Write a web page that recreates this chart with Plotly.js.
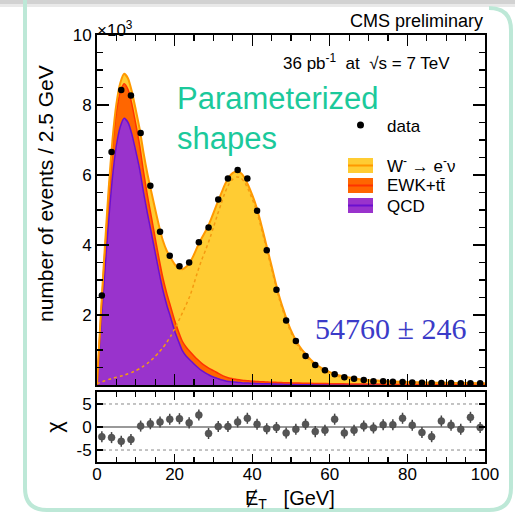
<!DOCTYPE html>
<html>
<head>
<meta charset="utf-8">
<script src="https://cdn.plot.ly/plotly-3.0.1.min.js"></script>
<style>
  html, body { margin: 0; padding: 0; background: #ffffff; }
  #chart { width: 515px; height: 518px; }
</style>
</head>
<body>
<div id="chart"></div>
<script>
// Missing transverse energy sampling points of the fitted shapes (GeV)
const modelMet = [0, 1, 2, 3, 4, 5, 6, 7, 8, 9, 10, 11, 12, 13, 14, 15, 16, 17, 18, 19,
  20, 21, 22, 23, 24, 25, 26, 27, 28, 29, 30, 31, 32, 33, 34, 35, 36, 37, 38, 39,
  40, 41, 42, 43, 44, 45, 46, 47, 48, 49, 50, 52, 54, 56, 58, 60, 62, 65, 68, 72,
  76, 80, 85, 90, 95, 100];

// QCD component (10^3 events / 2.5 GeV)
const qcdShape = [0, 1.67, 3.23, 4.69, 5.95, 6.85, 7.38, 7.62, 7.50, 7.16,
  6.68, 6.16, 5.50, 4.90, 4.35, 3.78, 3.22, 2.70, 2.28, 1.92,
  1.55, 1.25, 0.98, 0.82, 0.71, 0.60, 0.50, 0.41, 0.34, 0.28,
  0.23, 0.19, 0.15, 0.12, 0.10, 0.09, 0.08, 0.07, 0.06, 0.055,
  0.05, 0.045, 0.04, 0.038, 0.035, 0.032, 0.03, 0.028, 0.026, 0.024,
  0.022, 0.02, 0.018, 0.016, 0.014, 0.012, 0.011, 0.01, 0.009, 0.008,
  0.007, 0.006, 0.005, 0.004, 0.003, 0.003];

// EWK + ttbar component
const ewkShape = [0, 0.30, 0.55, 0.75, 0.88, 0.96, 1.00, 0.99, 0.94, 0.86,
  0.77, 0.68, 0.59, 0.51, 0.46, 0.42, 0.38, 0.35, 0.33, 0.31,
  0.30, 0.28, 0.27, 0.26, 0.24, 0.23, 0.22, 0.21, 0.20, 0.19,
  0.18, 0.16, 0.14, 0.12, 0.10, 0.09, 0.08, 0.075, 0.07, 0.065,
  0.06, 0.058, 0.055, 0.052, 0.05, 0.048, 0.046, 0.044, 0.042, 0.04,
  0.038, 0.035, 0.032, 0.03, 0.028, 0.026, 0.024, 0.022, 0.02, 0.018,
  0.016, 0.014, 0.012, 0.011, 0.01, 0.009];

// W- -> e- nu signal component
const wShape = [0.03, 0.08, 0.12, 0.16, 0.19, 0.22, 0.25, 0.28, 0.32, 0.36,
  0.41, 0.47, 0.54, 0.62, 0.71, 0.82, 0.94, 1.07, 1.22, 1.40,
  1.60, 1.82, 2.06, 2.30, 2.56, 2.90, 3.26, 3.58, 3.86, 4.16,
  4.50, 4.85, 5.18, 5.50, 5.74, 5.88, 5.94, 5.92, 5.80, 5.58,
  5.32, 5.02, 4.63, 4.20, 3.76, 3.32, 2.87, 2.45, 2.10, 1.78,
  1.50, 1.08, 0.80, 0.58, 0.43, 0.33, 0.25, 0.18, 0.13, 0.10,
  0.08, 0.065, 0.055, 0.047, 0.042, 0.038];

// Histogram bin centres (2.5 GeV bins)
const binCenters = [1.25, 3.75, 6.25, 8.75, 11.25, 13.75, 16.25, 18.75, 21.25, 23.75,
  26.25, 28.75, 31.25, 33.75, 36.25, 38.75, 41.25, 43.75, 46.25, 48.75,
  51.25, 53.75, 56.25, 58.75, 61.25, 63.75, 66.25, 68.75, 71.25, 73.75,
  76.25, 78.75, 81.25, 83.75, 86.25, 88.75, 91.25, 93.75, 96.25, 98.75];

// Observed events per bin (10^3)
const dataCounts = [2.56, 6.66, 8.43, 8.27, 7.20, 5.69, 4.38, 3.69, 3.39, 3.50,
  4.08, 4.50, 5.30, 5.90, 6.14, 5.90, 4.98, 3.85, 2.72, 1.84,
  1.26, 0.83, 0.57, 0.42, 0.31, 0.22, 0.18, 0.14, 0.11, 0.11,
  0.095, 0.085, 0.075, 0.065, 0.06, 0.057, 0.055, 0.052, 0.05, 0.048];

// Pull (chi) per bin
const pullValues = [-2.1, -2.3, -3.1, -2.7, 0.2, 0.7, 1.1, 1.7, 1.8, 0.9,
  2.6, -1.4, 0.1, 0.1, 1.1, 1.9, 0.6, -0.4, -0.1, -1.3,
  -0.5, 0.6, -1.0, -0.7, 1.7, -1.3, -0.7, 0.2, -0.2, 0.5,
  0.5, 1.9, 0.4, -1.2, -2.1, 1.3, 0.4, -0.5, 2.1, -0.1];

const tickValsX = [0, 20, 40, 60, 80, 100];
const tickTextX = ['0', '20', '40', '60', '80', '100'];

// stacked envelopes: QCD, QCD + EWK, QCD + EWK + W
const ewkTop = qcdShape.map((v, i) => v + ewkShape[i]);
const totalTop = ewkTop.map((v, i) => v + wShape[i]);

// pixel -> paper helpers for the decorations
const PX = v => (v - 97) / 388;
const PY = v => (462 - v) / 427;

const FONT = 'Liberation Sans, Arial, Helvetica, sans-serif';

const traces = [
  { x: modelMet, y: qcdShape, type: 'scatter', mode: 'lines', fill: 'tozeroy',
    fillcolor: '#9933cc', line: { color: '#6a10d0', width: 1.5, shape: 'spline', smoothing: 0.6 },
    hoverinfo: 'skip', showlegend: false },
  { x: modelMet, y: ewkTop, type: 'scatter', mode: 'lines', fill: 'tonexty',
    fillcolor: '#ff6600', line: { color: '#ff3300', width: 1.5, shape: 'spline', smoothing: 0.6 },
    hoverinfo: 'skip', showlegend: false },
  { x: modelMet, y: totalTop, type: 'scatter', mode: 'lines', fill: 'tonexty',
    fillcolor: '#ffcc33', line: { color: '#ff9900', width: 2, shape: 'spline', smoothing: 0.6 },
    hoverinfo: 'skip', showlegend: false },
  { x: modelMet, y: wShape, type: 'scatter', mode: 'lines',
    line: { color: '#f59a10', width: 1.5, dash: 'dot', shape: 'spline', smoothing: 0.6 },
    hoverinfo: 'skip', showlegend: false },
  { x: binCenters, y: dataCounts, type: 'scatter', mode: 'markers',
    marker: { color: '#000000', size: 6.5 }, showlegend: false },
  { x: binCenters, y: pullValues, type: 'scatter', mode: 'markers', xaxis: 'x2', yaxis: 'y2',
    marker: { color: '#555555', size: 7, line: { color: '#444444', width: 0.5 } },
    error_y: { type: 'constant', value: 1.2, color: '#444444', thickness: 1.5, width: 0 },
    showlegend: false }
];

const axisCommon = {
  showgrid: false, zeroline: false, showline: true, linecolor: '#000000', linewidth: 2,
  mirror: 'allticks', ticks: 'inside', tickcolor: '#000000', tickwidth: 1.2,
  tickfont: { family: FONT, size: 17, color: '#000000' }
};

const shapes = [
  // slide frame
  { type: 'rect', xref: 'paper', yref: 'paper', x0: PX(0), x1: PX(515), y0: PY(0), y1: PY(4),
    fillcolor: '#d2d2d2', line: { width: 0 }, layer: 'below' },
  { type: 'rect', xref: 'paper', yref: 'paper', x0: PX(0), x1: PX(515), y0: PY(4), y1: PY(7),
    fillcolor: '#e9e9e9', line: { width: 0 }, layer: 'below' },
  { type: 'path', xref: 'paper', yref: 'paper', layer: 'below',
    path: 'M ' + PX(25) + ',' + PY(0) + ' L ' + PX(25) + ',' + PY(488) +
      ' Q ' + PX(25) + ',' + PY(510) + ' ' + PX(47) + ',' + PY(510) +
      ' L ' + PX(489) + ',' + PY(510) +
      ' Q ' + PX(511) + ',' + PY(510) + ' ' + PX(511) + ',' + PY(488) +
      ' L ' + PX(511) + ',' + PY(30) +
      ' Q ' + PX(511) + ',' + PY(8) + ' ' + PX(489) + ',' + PY(8),
    line: { color: '#bde8d7', width: 4 } },
  // chi reference lines
  { type: 'line', xref: 'x2', yref: 'y2', x0: 0, x1: 100, y0: 5, y1: 5,
    line: { color: '#888888', width: 1, dash: 'dot' }, layer: 'below' },
  { type: 'line', xref: 'x2', yref: 'y2', x0: 0, x1: 100, y0: -5, y1: -5,
    line: { color: '#888888', width: 1, dash: 'dot' }, layer: 'below' },
  { type: 'line', xref: 'x2', yref: 'y2', x0: 0, x1: 100, y0: 0, y1: 0,
    line: { color: '#999999', width: 2 }, layer: 'below' },
  // legend keys
  { type: 'circle', xref: 'paper', yref: 'paper', x0: PX(357), x1: PX(364), y0: PY(121.5), y1: PY(128.5),
    fillcolor: '#000000', line: { width: 0 } },
  { type: 'rect', xref: 'paper', yref: 'paper', x0: PX(348), x1: PX(373), y0: PY(158), y1: PY(173),
    fillcolor: '#ffcc33', line: { width: 0 } },
  { type: 'line', xref: 'paper', yref: 'paper', x0: PX(348), x1: PX(373), y0: PY(165.5), y1: PY(165.5),
    line: { color: '#ff9900', width: 2 } },
  { type: 'rect', xref: 'paper', yref: 'paper', x0: PX(348), x1: PX(373), y0: PY(178), y1: PY(193),
    fillcolor: '#ff6600', line: { width: 0 } },
  { type: 'line', xref: 'paper', yref: 'paper', x0: PX(348), x1: PX(373), y0: PY(185.5), y1: PY(185.5),
    line: { color: '#ff3300', width: 2 } },
  { type: 'rect', xref: 'paper', yref: 'paper', x0: PX(348), x1: PX(373), y0: PY(198), y1: PY(213),
    fillcolor: '#9933cc', line: { width: 0 } },
  { type: 'line', xref: 'paper', yref: 'paper', x0: PX(348), x1: PX(373), y0: PY(205.5), y1: PY(205.5),
    line: { color: '#6a10d0', width: 2 } }
];

function label(text, x, y, size, opts) {
  return Object.assign({ xref: 'paper', yref: 'paper', x: x, y: y, text: text, showarrow: false,
    xanchor: 'left', yanchor: 'middle',
    font: { family: FONT, size: size, color: '#000000' } }, opts || {});
}

const annotations = [
  label('CMS preliminary', PX(485), PY(21), 18, { xanchor: 'right' }),
  label('×10<sup>3</sup>', PX(95), PY(29), 17),
  label('36 pb<sup>-1</sup>  at  √s = 7 TeV', PX(366), PY(62), 17, { xanchor: 'center' }),
  label('Parameterized<br>shapes', PX(175), PY(118), 31,
    { font: { family: FONT, size: 31, color: '#1bc99b' }, align: 'left' }),
  label('54760 ± 246', PX(390), PY(328), 30,
    { xanchor: 'center', font: { family: 'Liberation Serif, Times New Roman, serif', size: 30, color: '#3b3bc8' } }),
  label('number of events / 2.5 GeV', PX(45), PY(194), 21, { xanchor: 'center', textangle: -90 }),
  label('data', PX(385), PY(126), 17),
  label('W<sup>-</sup> → e<sup>-</sup>ν', PX(385), PY(165), 17),
  label('EWK+tt\u0304', PX(385), PY(186), 17),
  label('QCD', PX(385), PY(206), 17),
  label('Ɇ<sub>T</sub>   [GeV]', PX(290), PY(499), 20, { xanchor: 'center' })
];

const layout = {
  width: 515, height: 518,
  margin: { l: 97, r: 30, t: 35, b: 56 },
  paper_bgcolor: '#ffffff', plot_bgcolor: '#ffffff',
  showlegend: false,
  xaxis: Object.assign({}, axisCommon, {
    range: [0, 100], anchor: 'y', showticklabels: false,
    tickvals: tickValsX, ticklen: 11,
    minor: { dtick: 5, ticklen: 6, ticks: 'inside', tickcolor: '#000000', showgrid: false }
  }),
  yaxis: Object.assign({}, axisCommon, {
    domain: [0.1803, 1], range: [0, 10], anchor: 'x',
    tickvals: [0, 2, 4, 6, 8, 10], ticktext: ['', '2', '4', '6', '8', '10'], ticklen: 12,
    minor: { dtick: 0.5, ticklen: 6, ticks: 'inside', tickcolor: '#000000', showgrid: false }
  }),
  xaxis2: Object.assign({}, axisCommon, {
    range: [0, 100], anchor: 'y2',
    tickvals: tickValsX, ticktext: tickTextX, ticklen: 8, ticklabelstandoff: -4,
    minor: { dtick: 5, ticklen: 5, ticks: 'inside', tickcolor: '#000000', showgrid: false }
  }),
  yaxis2: Object.assign({}, axisCommon, {
    domain: [0, 0.1639], range: [-7.6, 7.6], anchor: 'x2',
    tickvals: [-5, 0, 5], ticktext: ['-5', '0', '5'], ticklen: 6,
    title: { text: 'χ', font: { family: FONT, size: 22, color: '#000000' }, standoff: 8 }
  }),
  shapes: shapes,
  annotations: annotations
};

Plotly.newPlot('chart', traces, layout, { staticPlot: true, displayModeBar: false });
</script>
</body>
</html>
